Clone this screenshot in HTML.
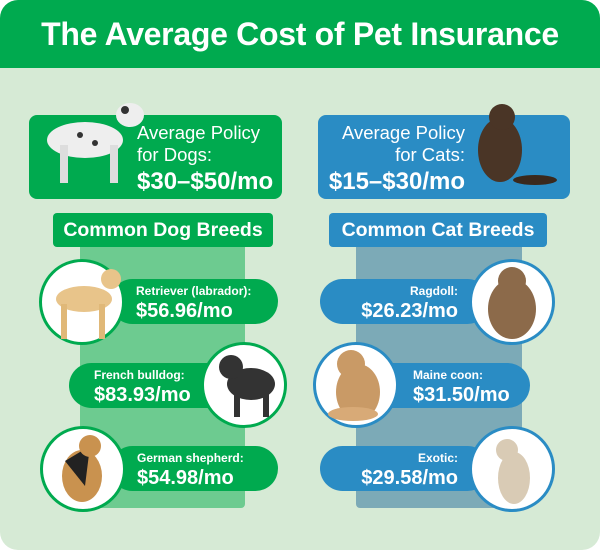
<!DOCTYPE html>
<html><head><meta charset="utf-8"><style>
*{margin:0;padding:0;box-sizing:border-box}
body{width:600px;height:552px;background:#fff;font-family:"Liberation Sans",sans-serif;position:relative;overflow:hidden}
.a{position:absolute}
.card{left:0;top:0;width:600px;height:550px;background:#d6ead5;border-radius:18px;overflow:hidden}
.hdr{left:0;top:0;width:600px;height:68px;background:#00aa4f;color:#fff;font-size:32px;font-weight:bold;text-align:center;line-height:68px;letter-spacing:-0.3px}
.g{background:#00aa4f}.b{background:#2a8cc4}
.box{border-radius:8px;color:#fff}
.t1{font-size:18.5px;line-height:22px}
.t2{font-size:24px;font-weight:bold;line-height:28px}
.lab{border-radius:4px;color:#fff;font-size:19.5px;font-weight:bold;text-align:center;line-height:34px}
.pill{height:45px;border-radius:23px;color:#fff;padding-top:4px}
.pill .s{font-size:12px;font-weight:bold;line-height:16px}
.pill .p{font-size:20px;font-weight:bold;line-height:24px}
.c{width:86px;height:86px;border-radius:50%;background:#fff;border:3px solid #00aa4f}
.cb{border-color:#2a8cc4}
</style></head><body>
<div class="a card">
<div class="a hdr">The Average Cost of Pet Insurance</div>
<div class="a box g" style="left:29px;top:115px;width:253px;height:84px"></div>
<div class="a" style="left:137px;top:122px;color:#fff"><div class="t1">Average Policy<br>for Dogs:</div><div class="t2" style="margin-top:2px">$30–$50/mo</div></div>
<div class="a box b" style="left:318px;top:115px;width:252px;height:84px"></div>
<div class="a" style="left:300px;width:165px;top:122px;color:#fff;text-align:right"><div class="t1">Average Policy<br>for Cats:</div><div class="t2" style="margin-top:2px">$15–$30/mo</div></div>
<svg class="a" style="left:30px;top:95px" width="130" height="90"><ellipse cx="55" cy="45" rx="38" ry="18" fill="#eee"/><ellipse cx="100" cy="20" rx="14" ry="12" fill="#eee"/><rect x="30" y="50" width="8" height="38" fill="#ddd"/><rect x="80" y="50" width="8" height="38" fill="#ddd"/><circle cx="50" cy="40" r="3" fill="#333"/><circle cx="65" cy="48" r="3" fill="#333"/><circle cx="95" cy="15" r="4" fill="#333"/></svg>
<svg class="a" style="left:470px;top:95px" width="90" height="95"><ellipse cx="30" cy="55" rx="22" ry="32" fill="#4a3526"/><circle cx="32" cy="22" r="13" fill="#4a3526"/><ellipse cx="65" cy="85" rx="22" ry="5" fill="#3a291d"/></svg>
<div class="a lab g" style="left:53px;top:213px;width:220px;height:34px">Common Dog Breeds</div>
<div class="a lab b" style="left:329px;top:213px;width:218px;height:34px">Common Cat Breeds</div>
<div class="a" style="left:80px;top:247px;width:165px;height:261px;background:#6dcb90;border-radius:0 0 4px 4px"></div>
<div class="a" style="left:356px;top:247px;width:166px;height:261px;background:#7caab7;border-radius:0 0 4px 4px"></div>

<div class="a pill g" style="left:110px;top:279px;width:168px;padding-left:26px"><div class="s">Retriever (labrador):</div><div class="p">$56.96/mo</div></div>
<div class="a c" style="left:39px;top:259px"></div>
<div class="a pill g" style="left:69px;top:363px;width:190px;padding-left:25px"><div class="s">French bulldog:</div><div class="p">$83.93/mo</div></div>
<div class="a c" style="left:201px;top:342px"></div>
<div class="a pill g" style="left:110px;top:446px;width:168px;padding-left:27px"><div class="s">German shepherd:</div><div class="p">$54.98/mo</div></div>
<div class="a c" style="left:40px;top:426px"></div>

<div class="a pill b" style="left:320px;top:279px;width:170px;padding-right:32px;text-align:right"><div class="s">Ragdoll:</div><div class="p">$26.23/mo</div></div>
<div class="a c cb" style="left:469px;top:259px"></div>
<div class="a pill b" style="left:340px;top:363px;width:190px;padding-left:73px"><div class="s">Maine coon:</div><div class="p">$31.50/mo</div></div>
<div class="a c cb" style="left:313px;top:342px"></div>
<div class="a pill b" style="left:320px;top:446px;width:170px;padding-right:32px;text-align:right"><div class="s">Exotic:</div><div class="p">$29.58/mo</div></div>
<div class="a c cb" style="left:469px;top:426px"></div>

<svg class="a" style="left:39px;top:259px" width="86" height="86"><ellipse cx="45" cy="40" rx="28" ry="13" fill="#e8c48a"/><rect x="22" y="45" width="6" height="35" fill="#e0b878"/><rect x="60" y="45" width="6" height="35" fill="#e0b878"/><circle cx="72" cy="20" r="10" fill="#e8c48a"/></svg>
<svg class="a" style="left:201px;top:342px" width="86" height="86"><ellipse cx="50" cy="42" rx="24" ry="16" fill="#333"/><circle cx="30" cy="25" r="12" fill="#333"/><rect x="33" y="50" width="6" height="25" fill="#333"/><rect x="62" y="50" width="6" height="25" fill="#333"/></svg>
<svg class="a" style="left:40px;top:426px" width="86" height="86"><ellipse cx="42" cy="50" rx="20" ry="26" fill="#c9924f"/><path d="M25 35 L50 20 L45 60 Z" fill="#222"/><circle cx="50" cy="20" r="11" fill="#c9924f"/></svg>
<svg class="a" style="left:469px;top:259px" width="86" height="86"><ellipse cx="43" cy="50" rx="24" ry="30" fill="#8c6a4a"/><circle cx="43" cy="22" r="14" fill="#8c6a4a"/></svg>
<svg class="a" style="left:313px;top:342px" width="86" height="86"><ellipse cx="45" cy="50" rx="22" ry="28" fill="#c99a66"/><circle cx="38" cy="22" r="14" fill="#c99a66"/><ellipse cx="40" cy="72" rx="25" ry="7" fill="#d8aa77"/></svg>
<svg class="a" style="left:469px;top:426px" width="86" height="86"><ellipse cx="45" cy="52" rx="16" ry="26" fill="#d9cbb5"/><circle cx="38" cy="24" r="11" fill="#d9cbb5"/></svg>
</div>
</body></html>
